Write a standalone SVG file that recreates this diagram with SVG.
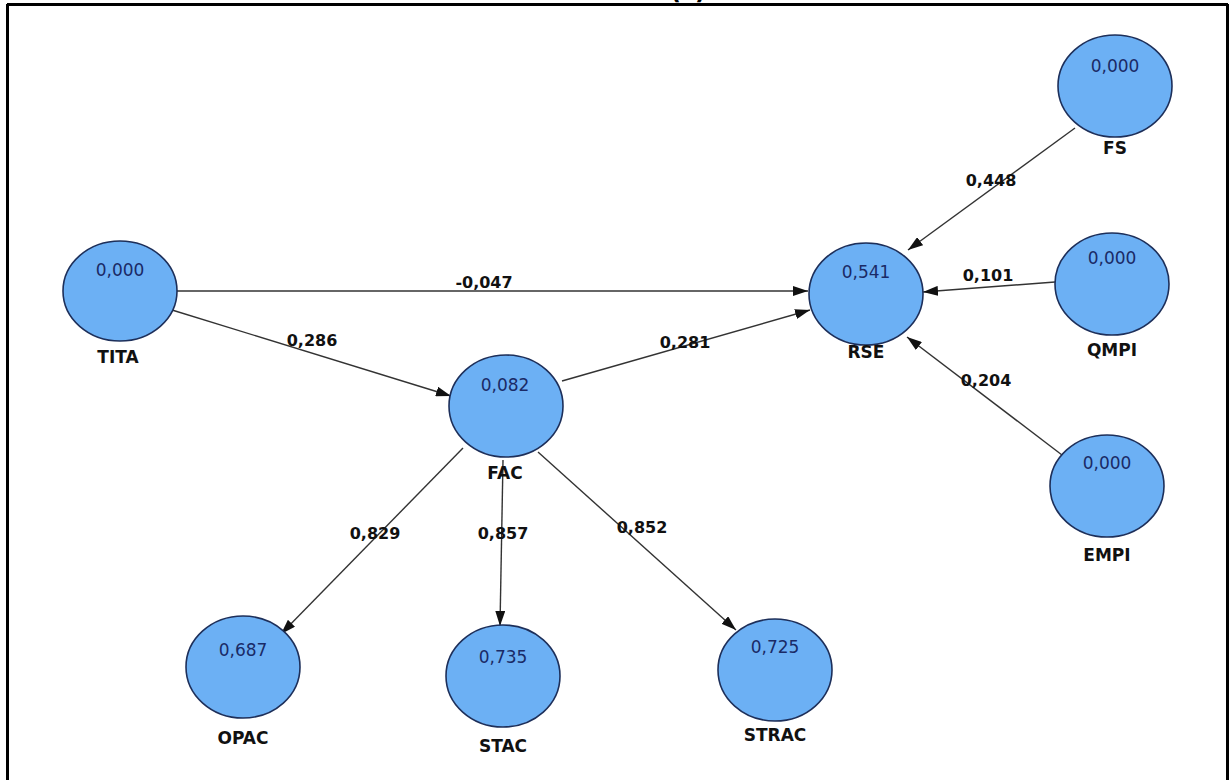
<svg xmlns="http://www.w3.org/2000/svg" width="1230" height="780" viewBox="0 0 1230 780">
  <style>
    .node ellipse { fill: #6cb0f4; stroke: #1d2f5a; stroke-width: 1.6; }
    .val { font-family: "DejaVu Sans", Verdana, sans-serif; font-size: 17px; fill: #1a2a66; text-anchor: middle; }
    .name { font-family: "DejaVu Sans", Verdana, sans-serif; font-size: 17px; font-weight: bold; fill: #111; text-anchor: middle; }
    .edge { stroke: #333; stroke-width: 1.4; fill: none; marker-end: url(#arrow); }
    .elabel { font-family: "DejaVu Sans", Verdana, sans-serif; font-size: 16px; font-weight: bold; fill: #111; text-anchor: middle; }
  </style>
  <defs>
    <marker id="arrow" viewBox="0 0 15 10" refX="15" refY="5" markerWidth="15" markerHeight="10" markerUnits="userSpaceOnUse" orient="auto">
      <path d="M0,0 L15,5 L0,10 Z" fill="#111"/>
    </marker>
  </defs>

  <rect width="1230" height="780" fill="#ffffff"/>

  <!-- frame -->
  <g id="frame" stroke="#000" stroke-width="3" fill="none">
    <line x1="7" y1="4.5" x2="1228" y2="4.5"/>
    <line x1="7.5" y1="4" x2="7.5" y2="780"/>
    <line x1="1227.5" y1="4" x2="1227.5" y2="780"/>
  </g>
  <text x="688" y="-1" font-family="DejaVu Sans, sans-serif" font-size="24" font-weight="bold" text-anchor="middle" fill="#000">(c)</text>

  <!-- connectors -->
  <g id="connectors">
    <line class="edge" x1="177" y1="291" x2="808" y2="291"/>
    <line class="edge" x1="172" y1="310" x2="451" y2="396"/>
    <line class="edge" x1="562" y1="381" x2="810" y2="310"/>
    <line class="edge" x1="1075" y1="128" x2="908" y2="250"/>
    <line class="edge" x1="1055" y1="282" x2="923" y2="292"/>
    <line class="edge" x1="1062" y1="455" x2="907" y2="337"/>
    <line class="edge" x1="463" y1="448" x2="281" y2="634"/>
    <line class="edge" x1="503" y1="460" x2="500" y2="626"/>
    <line class="edge" x1="538" y1="452" x2="736" y2="630"/>

    <text class="elabel" x="484" y="288">-0,047</text>
    <text class="elabel" x="312" y="346">0,286</text>
    <text class="elabel" x="685" y="348">0,281</text>
    <text class="elabel" x="991" y="186">0,448</text>
    <text class="elabel" x="988" y="281">0,101</text>
    <text class="elabel" x="986" y="386">0,204</text>
    <text class="elabel" x="375" y="539">0,829</text>
    <text class="elabel" x="503" y="539">0,857</text>
    <text class="elabel" x="642" y="533">0,852</text>
  </g>

  <!-- nodes -->
  <g id="TITA" class="node">
    <ellipse cx="120" cy="291" rx="57" ry="50"/>
    <text class="val" x="120" y="276">0,000</text>
    <text class="name" x="118" y="363">TITA</text>
  </g>
  <g id="FAC" class="node">
    <ellipse cx="506" cy="406" rx="57" ry="51"/>
    <text class="val" x="505" y="391">0,082</text>
    <text class="name" x="505" y="479">FAC</text>
  </g>
  <g id="RSE" class="node">
    <ellipse cx="866" cy="294" rx="57" ry="51"/>
    <text class="val" x="866" y="278">0,541</text>
    <text class="name" x="866" y="358">RSE</text>
  </g>
  <g id="FS" class="node">
    <ellipse cx="1115" cy="86" rx="57" ry="51"/>
    <text class="val" x="1115" y="72">0,000</text>
    <text class="name" x="1115" y="154">FS</text>
  </g>
  <g id="QMPI" class="node">
    <ellipse cx="1112" cy="284" rx="57" ry="51"/>
    <text class="val" x="1112" y="264">0,000</text>
    <text class="name" x="1112" y="356">QMPI</text>
  </g>
  <g id="EMPI" class="node">
    <ellipse cx="1107" cy="486" rx="57" ry="51"/>
    <text class="val" x="1107" y="469">0,000</text>
    <text class="name" x="1107" y="561">EMPI</text>
  </g>
  <g id="OPAC" class="node">
    <ellipse cx="243" cy="667" rx="57" ry="51"/>
    <text class="val" x="243" y="656">0,687</text>
    <text class="name" x="243" y="744">OPAC</text>
  </g>
  <g id="STAC" class="node">
    <ellipse cx="503" cy="676" rx="57" ry="51"/>
    <text class="val" x="503" y="663">0,735</text>
    <text class="name" x="503" y="752">STAC</text>
  </g>
  <g id="STRAC" class="node">
    <ellipse cx="775" cy="670" rx="57" ry="51"/>
    <text class="val" x="775" y="653">0,725</text>
    <text class="name" x="775" y="741">STRAC</text>
  </g>
</svg>
